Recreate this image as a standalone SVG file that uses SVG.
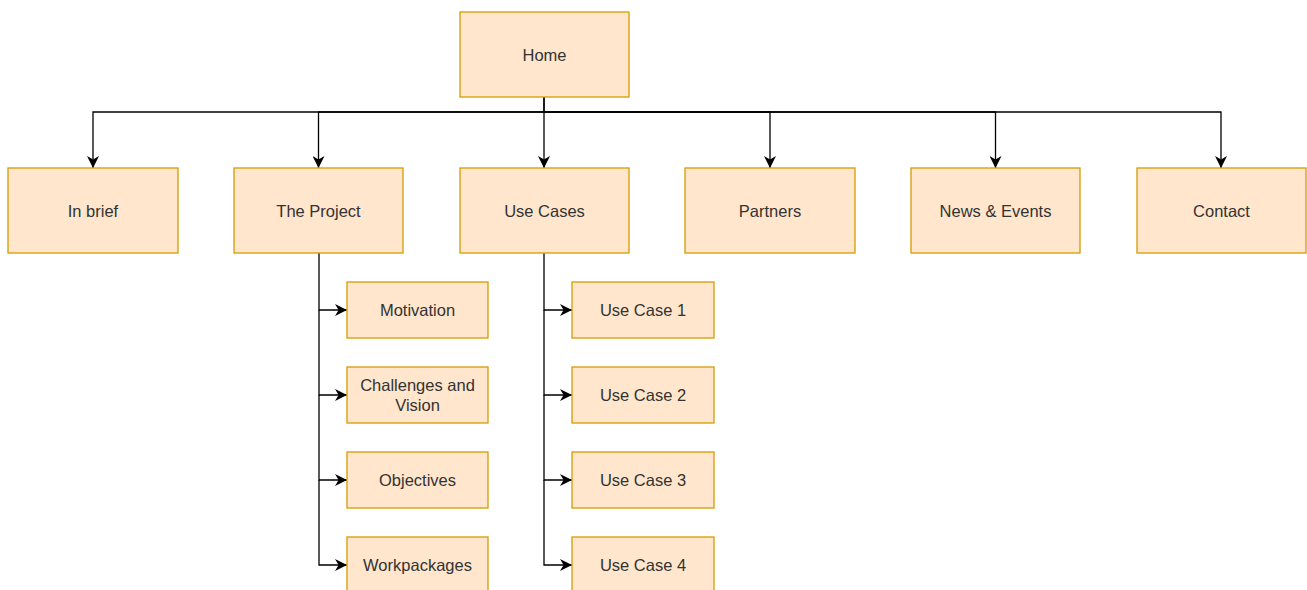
<svg xmlns="http://www.w3.org/2000/svg" width="1307" height="590" viewBox="0 0 1307 590">
<style>
.n{fill:#ffe6cc;stroke:#d79b00;stroke-width:1.3}
.t{font-family:"Liberation Sans",Arial,sans-serif;font-size:16.5px;fill:#333;text-anchor:middle;dominant-baseline:central}
.c{fill:none;stroke:#000;stroke-width:1.3}
</style>
<defs>
<marker id="a" viewBox="0 0 10 10" refX="10" refY="5" markerWidth="12" markerHeight="12" markerUnits="userSpaceOnUse" orient="auto">
<path d="M0,0 L10,5 L0,10 L3,5 Z" fill="#000"/>
</marker>
</defs>
<rect width="1307" height="590" fill="#fff"/>
<g id="connectors">
<path class="c" d="M544,97 V112 H93 V168" marker-end="url(#a)"/>
<path class="c" d="M544,112 H318.5 V168" marker-end="url(#a)"/>
<path class="c" d="M544,97 V168" marker-end="url(#a)"/>
<path class="c" d="M544,112 H770 V168" marker-end="url(#a)"/>
<path class="c" d="M544,112 H995.5 V168" marker-end="url(#a)"/>
<path class="c" d="M544,112 H1221 V168" marker-end="url(#a)"/>
<path class="c" d="M319,253 V310 H347" marker-end="url(#a)"/>
<path class="c" d="M319,310 V395 H347" marker-end="url(#a)"/>
<path class="c" d="M319,395 V480 H347" marker-end="url(#a)"/>
<path class="c" d="M319,480 V565 H347" marker-end="url(#a)"/>
<path class="c" d="M544,253 V310 H572" marker-end="url(#a)"/>
<path class="c" d="M544,310 V395 H572" marker-end="url(#a)"/>
<path class="c" d="M544,395 V480 H572" marker-end="url(#a)"/>
<path class="c" d="M544,480 V565 H572" marker-end="url(#a)"/>
</g>
<g id="home"><rect class="n" x="460" y="12" width="169" height="85"/><text class="t" x="544.5" y="55">Home</text></g>
<g id="inbrief"><rect class="n" x="8" y="168" width="170" height="85"/><text class="t" x="93" y="211">In brief</text></g>
<g id="project"><rect class="n" x="234" y="168" width="169" height="85"/><text class="t" x="318.5" y="211">The Project</text></g>
<g id="usecases"><rect class="n" x="460" y="168" width="169" height="85"/><text class="t" x="544.5" y="211">Use Cases</text></g>
<g id="partners"><rect class="n" x="685" y="168" width="170" height="85"/><text class="t" x="770" y="211">Partners</text></g>
<g id="news"><rect class="n" x="911" y="168" width="169" height="85"/><text class="t" x="995.5" y="211">News &amp; Events</text></g>
<g id="contact"><rect class="n" x="1137" y="168" width="169" height="85"/><text class="t" x="1221.5" y="211">Contact</text></g>
<g id="motivation"><rect class="n" x="347" y="282" width="141" height="56"/><text class="t" x="417.5" y="310">Motivation</text></g>
<g id="challenges"><rect class="n" x="347" y="367" width="141" height="56"/><text class="t" x="417.5" y="385">Challenges and</text><text class="t" x="417.5" y="405">Vision</text></g>
<g id="objectives"><rect class="n" x="347" y="452" width="141" height="56"/><text class="t" x="417.5" y="480">Objectives</text></g>
<g id="workpackages"><rect class="n" x="347" y="537" width="141" height="56"/><text class="t" x="417.5" y="565">Workpackages</text></g>
<g id="uc1"><rect class="n" x="572" y="282" width="142" height="56"/><text class="t" x="643" y="310">Use Case 1</text></g>
<g id="uc2"><rect class="n" x="572" y="367" width="142" height="56"/><text class="t" x="643" y="395">Use Case 2</text></g>
<g id="uc3"><rect class="n" x="572" y="452" width="142" height="56"/><text class="t" x="643" y="480">Use Case 3</text></g>
<g id="uc4"><rect class="n" x="572" y="537" width="142" height="56"/><text class="t" x="643" y="565">Use Case 4</text></g>
</svg>
